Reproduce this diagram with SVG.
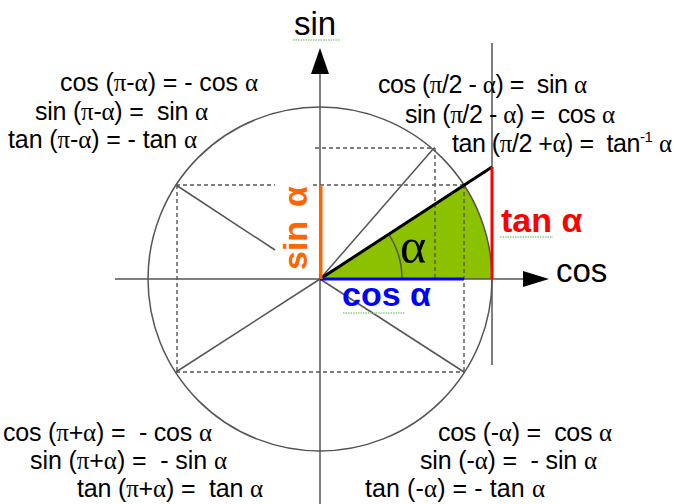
<svg xmlns="http://www.w3.org/2000/svg" width="674" height="504" viewBox="0 0 674 504">
<style>
.t{font-family:"Liberation Sans",Arial,sans-serif;font-size:25px;fill:#000;white-space:pre}
.g{font-family:"Liberation Serif","Times New Roman",serif}
.ax{font-family:"Liberation Sans",Arial,sans-serif;font-size:33px;fill:#000}
.lb{font-family:"Liberation Sans",Arial,sans-serif;font-weight:bold;font-size:34px}
.thin{stroke:#555;stroke-width:1.5;fill:none}
.dash{stroke:#555;stroke-width:1.4;stroke-dasharray:4 3;fill:none}
.sq{stroke:#8fd08f;stroke-width:1.5;stroke-dasharray:1.5 1;fill:none}
</style>
<rect width="674" height="504" fill="#fff"/>
<g id="sector">
<path d="M320,279 L492,279 A172,172 0 0 0 464.3,185.3 Z" fill="#8cc100"/>
</g>
<g id="connectors">
<line class="dash" x1="176" y1="185" x2="275" y2="185"/>
<line class="dash" x1="313" y1="185" x2="464" y2="185"/>
<line class="dash" x1="315" y1="148" x2="435" y2="148"/>
<line class="dash" x1="176" y1="372" x2="464" y2="372"/>
<line class="dash" x1="177" y1="185" x2="177" y2="372"/>
<line class="dash" x1="435" y1="148" x2="435" y2="279"/>
<line class="dash" x1="464" y1="185" x2="464" y2="372"/>
<circle class="thin" cx="320" cy="279" r="172"/>
<line class="thin" x1="115" y1="279" x2="524" y2="279"/>
<line class="thin" x1="320" y1="73" x2="320" y2="504"/>
<line class="thin" x1="492" y1="43" x2="492" y2="365"/>
<line class="thin" x1="176" y1="185" x2="275" y2="250"/>
<line class="thin" x1="320" y1="279" x2="464" y2="372"/>
<line class="thin" x1="176" y1="372" x2="320" y2="279"/>
<line class="thin" x1="320" y1="279" x2="434" y2="148"/>
<path class="thin" d="M402,279 A82,82 0 0 0 388.8,234.3"/>
<polygon points="320,48 311,74 329,74" fill="#000"/>
<polygon points="549,279 523,271 523,287" fill="#000"/>
<line x1="320" y1="279" x2="492" y2="167" stroke="#000" stroke-width="3"/>
<line x1="492" y1="167" x2="492" y2="279" stroke="#ff0000" stroke-width="3"/>
<line x1="320" y1="279" x2="464" y2="279" stroke="#0000ff" stroke-width="3"/>
<line x1="321" y1="185" x2="321" y2="279" stroke="#ff6600" stroke-width="3"/>
</g>
<g id="axis-sin">
<text class="ax" x="294" y="35">sin</text>
<line class="sq" x1="293" y1="40" x2="340" y2="40"/>
</g>
<g id="axis-cos">
<text class="ax" x="556" y="282">cos</text>
</g>
<g id="angle-label">
<text x="400" y="263" font-family="Liberation Serif, serif" font-size="50">α</text>
</g>
<g id="label-sin">
<g transform="translate(307,270) rotate(-90)">
<text class="lb" x="0" y="0" fill="#ff6600" font-size="30">sin</text>
<text class="lb" x="63" y="0" fill="#ff6600">α</text>
</g>
</g>
<g id="label-tan">
<text class="lb" x="501" y="232" fill="#ff0000">tan <tspan>α</tspan></text>
<line class="sq" x1="500" y1="237" x2="553" y2="237"/>
</g>
<g id="label-cos">
<text class="lb" x="342" y="306" fill="#0000ff">cos α</text>
<line class="sq" x1="343" y1="313" x2="405" y2="313"/>
</g>
<g id="formulas-q2">
<text class="t" xml:space="preserve" x="60" y="91" textLength="198" lengthAdjust="spacing">cos (<tspan class="g">π</tspan>-<tspan class="g">α</tspan>) = - cos <tspan class="g">α</tspan></text>
<text class="t" xml:space="preserve" x="35" y="120" textLength="173" lengthAdjust="spacing">sin (<tspan class="g">π</tspan>-<tspan class="g">α</tspan>) =  sin <tspan class="g">α</tspan></text>
<text class="t" xml:space="preserve" x="8" y="148" textLength="189" lengthAdjust="spacing">tan (<tspan class="g">π</tspan>-<tspan class="g">α</tspan>) = - tan <tspan class="g">α</tspan></text>
</g>
<g id="formulas-q1">
<text class="t" xml:space="preserve" x="378" y="93" textLength="209" lengthAdjust="spacing">cos (<tspan class="g">π</tspan>/2 - <tspan class="g">α</tspan>) =  sin <tspan class="g">α</tspan></text>
<text class="t" xml:space="preserve" x="405" y="123" textLength="210" lengthAdjust="spacing">sin (<tspan class="g">π</tspan>/2 - <tspan class="g">α</tspan>) =  cos <tspan class="g">α</tspan></text>
<text class="t" xml:space="preserve" x="452" y="152" textLength="220" lengthAdjust="spacing">tan (<tspan class="g">π</tspan>/2 +<tspan class="g">α</tspan>) =  tan<tspan font-size="15" dy="-10">-1</tspan><tspan dy="10"> </tspan><tspan class="g">α</tspan></text>
</g>
<g id="formulas-q3">
<text class="t" xml:space="preserve" x="3" y="441" textLength="209" lengthAdjust="spacing">cos (<tspan class="g">π</tspan>+<tspan class="g">α</tspan>) =  - cos <tspan class="g">α</tspan></text>
<text class="t" xml:space="preserve" x="30" y="469" textLength="197" lengthAdjust="spacing">sin (<tspan class="g">π</tspan>+<tspan class="g">α</tspan>) =  - sin <tspan class="g">α</tspan></text>
<text class="t" xml:space="preserve" x="77" y="497" textLength="186" lengthAdjust="spacing">tan (<tspan class="g">π</tspan>+<tspan class="g">α</tspan>) =  tan <tspan class="g">α</tspan></text>
</g>
<g id="formulas-q4">
<text class="t" xml:space="preserve" x="438" y="441" textLength="174" lengthAdjust="spacing">cos (-<tspan class="g">α</tspan>) =  cos <tspan class="g">α</tspan></text>
<text class="t" xml:space="preserve" x="420" y="469" textLength="177" lengthAdjust="spacing">sin (-<tspan class="g">α</tspan>) =  - sin <tspan class="g">α</tspan></text>
<text class="t" xml:space="preserve" x="365" y="497" textLength="180" lengthAdjust="spacing">tan (-<tspan class="g">α</tspan>) = - tan <tspan class="g">α</tspan></text>
</g>
</svg>
